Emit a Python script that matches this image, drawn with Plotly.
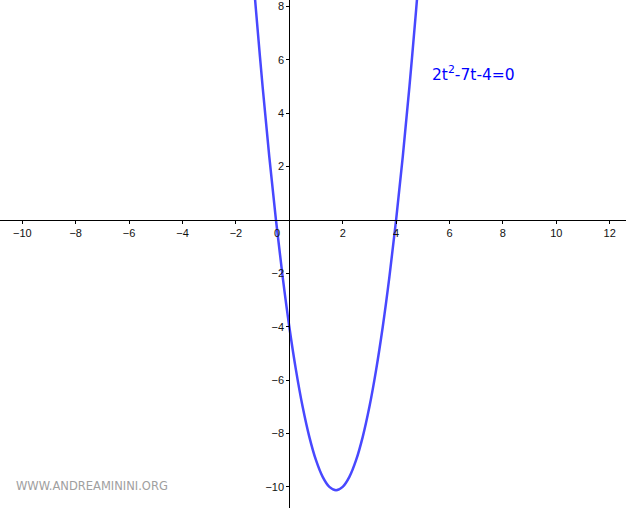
import plotly.graph_objects as go

t_vals = [-1.3, -1.25, -1.0, -0.75, -0.5, -0.25, 0.0, 0.25, 0.5, 0.75, 1.0, 1.25, 1.5,
          1.75, 2.0, 2.25, 2.5, 2.75, 3.0, 3.25, 3.5, 3.75, 4.0, 4.25, 4.5, 4.75, 4.8]
y_vals = [8.48, 7.875, 5.0, 2.375, 0.0, -2.125, -4.0, -5.625, -7.0, -8.125, -9.0, -9.625, -10.0,
          -10.125, -10.0, -9.625, -9.0, -8.125, -7.0, -5.625, -4.0, -2.125, 0.0, 2.375, 5.0, 7.875, 8.48]

x_ticks = [-10, -8, -6, -4, -2, 2, 4, 6, 8, 10, 12]
y_ticks = [-10, -8, -6, -4, -2, 2, 4, 6, 8]
x_range = [-10.835, 12.61]
y_range = [-10.79, 8.24]
label_text = "2t<sup>2</sup>-7t-4=0"
watermark = "WWW.ANDREAMININI.ORG"

fig = go.Figure()
fig.add_trace(go.Scatter(x=t_vals, y=y_vals, mode="lines",
                         line=dict(color="rgb(72,72,255)", width=2.5, shape="spline"),
                         hoverinfo="skip", showlegend=False, cliponaxis=True))

xpos = (0 - y_range[0]) / (y_range[1] - y_range[0])
ypos = (0 - x_range[0]) / (x_range[1] - x_range[0])

tickfont = dict(family="Liberation Sans, Arial, sans-serif", size=11, color="#111")
fig.update_layout(
    width=626, height=508,
    margin=dict(l=0, r=0, t=0, b=0, autoexpand=False),
    paper_bgcolor="white", plot_bgcolor="white",
    xaxis=dict(range=x_range, tickvals=x_ticks, ticktext=[str(v).replace("-", "\u2212") for v in x_ticks],
               showgrid=False, zeroline=False, showline=True, linecolor="black", linewidth=1,
               ticks="outside", ticklen=3, tickcolor="black", tickfont=tickfont, automargin=False,
               anchor="free", position=xpos, ticklabelstandoff=0, fixedrange=True,
               ticklabeloverflow="allow"),
    yaxis=dict(range=y_range, tickvals=y_ticks, ticktext=[str(v).replace("-", "\u2212") for v in y_ticks],
               showgrid=False, zeroline=False, showline=True, linecolor="black", linewidth=1,
               ticks="outside", ticklen=3, tickcolor="black", tickfont=tickfont, automargin=False,
               anchor="free", position=ypos, ticklabelstandoff=0, fixedrange=True,
               ticklabeloverflow="allow"),
    annotations=[
        dict(x=0, y=0, xref="x", yref="y", text="0", showarrow=False,
             xanchor="right", yanchor="top", xshift=-7, yshift=-5, font=tickfont),
        dict(x=5.27, y=5.47, xref="x", yref="y", text=label_text, showarrow=False,
             xanchor="left", yanchor="middle",
             font=dict(family="DejaVu Sans, sans-serif", size=15.5, color="blue")),
        dict(x=0.022, y=0.043, xref="paper", yref="paper", text=watermark, showarrow=False,
             xanchor="left", yanchor="middle",
             font=dict(family="DejaVu Sans, sans-serif", size=11.5, color="#a0a0a0")),
    ],
)

fig.write_html("out.html", config={"displayModeBar": False},
               post_script="document.body.style.margin='0';document.body.style.overflow='hidden';")
